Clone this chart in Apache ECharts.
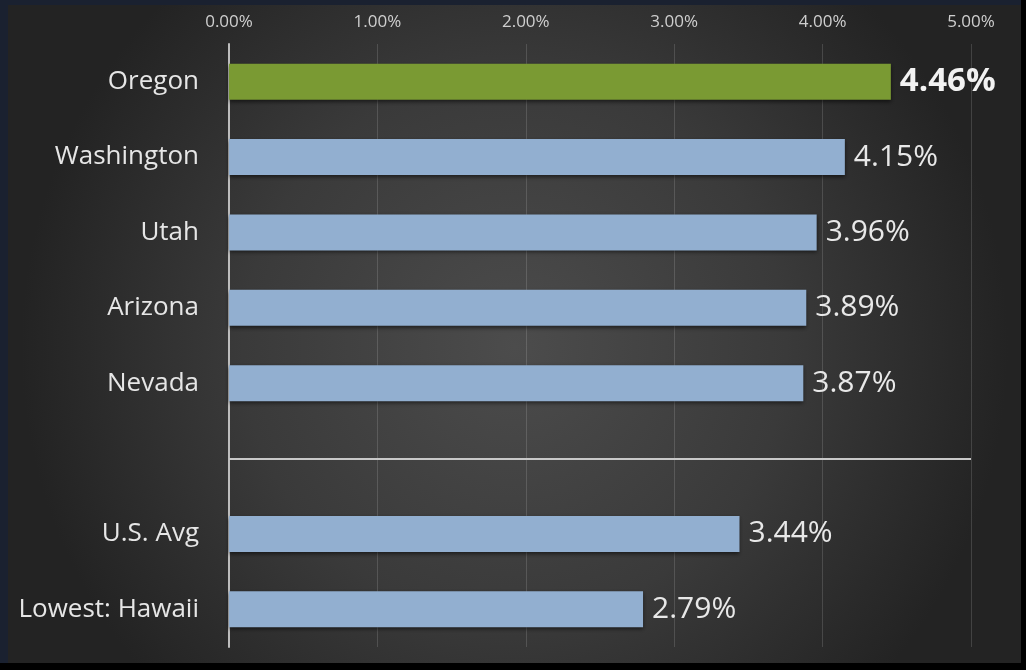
<!DOCTYPE html>
<html>
<head>
<meta charset="utf-8">
<title>Highest rates by state</title>
<script src="https://cdn.jsdelivr.net/npm/echarts@6/dist/echarts.min.js"></script>
<style>
  html, body { margin: 0; padding: 0; background: #000; }
  #chart { width: 1026px; height: 670px; }
</style>
</head>
<body>
<div id="chart"></div>
<script>
// Rows top to bottom; the empty row holds the divider between states and comparisons.
const categories = ['Oregon', 'Washington', 'Utah', 'Arizona', 'Nevada', '', 'U.S. Avg', 'Lowest: Hawaii'];
const rates = [4.46, 4.15, 3.96, 3.89, 3.87, null, 3.44, 2.79];
const highlightRow = 'Oregon';
const dividerRow = 5;
const axisMin = 0;
const axisMax = 5;
const axisStep = 1;

const FONT = '"Open Sans", "Noto Sans", sans-serif';
const BLUE = '#92afd0';
const GREEN = '#7a9a33';

const seriesData = rates.map(function (v, i) {
  if (categories[i] === highlightRow) {
    return {
      value: v,
      itemStyle: { color: GREEN },
      label: { fontSize: 33, fontWeight: 'bold', color: '#f2f2f2', distance: 9 }
    };
  }
  return v;
});

const chart = echarts.init(document.getElementById('chart'), null, { renderer: 'canvas' });

chart.setOption({
  animation: false,
  backgroundColor: '#000',
  graphic: [
    // dark navy strip on the top/left edge
    { type: 'rect', z: -10, silent: true, shape: { x: 0, y: 0, width: 1021, height: 663 }, style: { fill: '#1a2130' } },
    // panel with radial shading
    {
      type: 'rect', z: -9, silent: true,
      shape: { x: 8, y: 5, width: 1013, height: 658 },
      style: {
        fill: {
          type: 'radial', x: 0.5, y: 0.52, r: 0.75,
          colorStops: [
            { offset: 0, color: '#4c4c4c' },
            { offset: 0.55, color: '#3a3a3a' },
            { offset: 1, color: '#232323' }
          ]
        }
      }
    }
  ],
  grid: { left: 229, right: 55, top: 44, bottom: 23, containLabel: false },
  xAxis: {
    type: 'value',
    position: 'top',
    min: axisMin,
    max: axisMax,
    interval: axisStep,
    axisLine: { show: false },
    axisTick: { show: false },
    axisLabel: {
      color: '#cfcfcf',
      fontFamily: FONT,
      fontSize: 17,
      margin: 13,
      formatter: function (v) { return v.toFixed(2) + '%'; }
    },
    splitLine: { show: true, lineStyle: { color: 'rgba(255,255,255,0.14)', width: 1 } }
  },
  yAxis: {
    type: 'category',
    data: categories,
    inverse: true,
    axisLine: { show: true, lineStyle: { color: '#bdbdbd', width: 2 } },
    axisTick: { show: false },
    axisLabel: { color: '#e6e6e6', fontFamily: FONT, fontSize: 26, margin: 30 },
    splitLine: { show: false }
  },
  series: [{
    type: 'bar',
    data: seriesData,
    barWidth: 36,
    itemStyle: {
      color: BLUE,
      shadowColor: 'rgba(0,0,0,0.55)',
      shadowBlur: 4,
      shadowOffsetY: 2
    },
    label: {
      show: true,
      position: 'right',
      distance: 9,
      color: '#e8e8e8',
      fontFamily: FONT,
      fontSize: 30,
      formatter: function (p) { return p.value.toFixed(2) + '%'; }
    },
    markLine: {
      silent: true,
      symbol: 'none',
      label: { show: false },
      lineStyle: { color: '#c8c8c8', width: 2, type: 'solid' },
      data: [{ yAxis: dividerRow }]
    }
  }]
});
</script>
</body>
</html>
